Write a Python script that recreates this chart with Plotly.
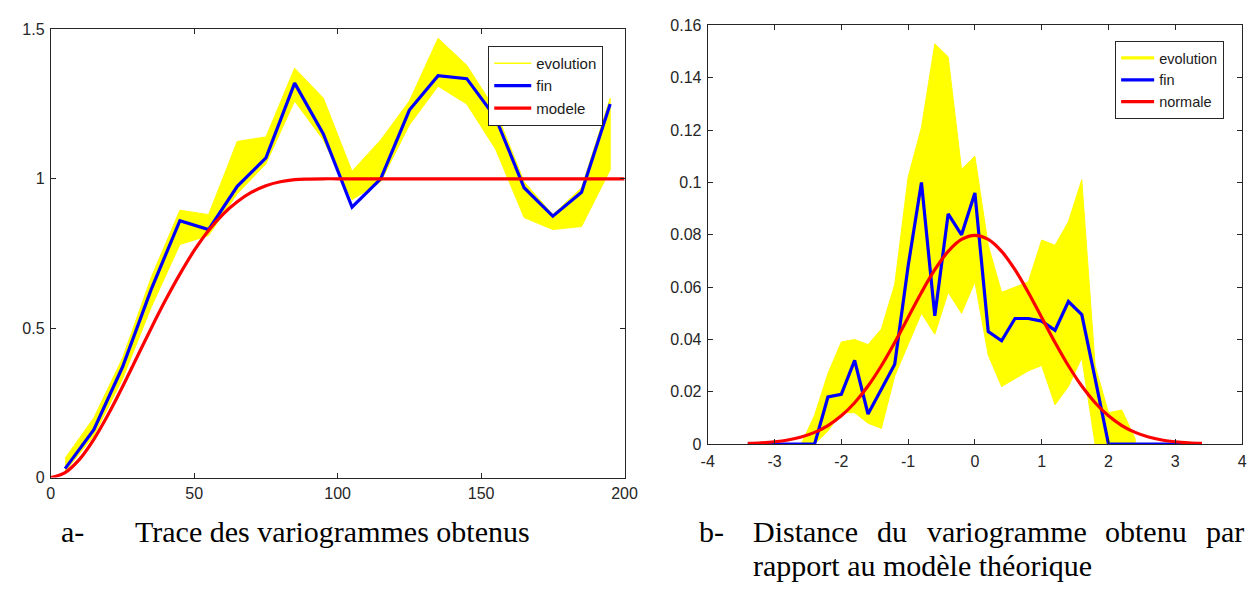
import plotly.graph_objects as go

# ---------------- Left panel: variograms ----------------
lag = [5, 15, 25, 35, 45, 55, 65, 75, 85, 95, 105, 115, 125, 135, 145, 155, 165, 175, 185, 195]
fin_a = [0.03, 0.16, 0.37, 0.63, 0.86, 0.83, 0.975, 1.07, 1.32, 1.15, 0.905, 1.0, 1.23, 1.345, 1.335, 1.205, 0.97, 0.875, 0.955, 1.25]
evo_a_upper = [0.065, 0.20, 0.40, 0.67, 0.895, 0.88, 1.125, 1.14, 1.37, 1.27, 1.025, 1.13, 1.26, 1.47, 1.38, 1.23, 0.99, 0.88, 0.97, 1.27]
evo_a_lower = [0.02, 0.14, 0.33, 0.57, 0.78, 0.81, 0.95, 1.05, 1.26, 1.13, 0.93, 0.99, 1.18, 1.31, 1.25, 1.10, 0.87, 0.83, 0.84, 1.03]
model_h = [0, 5, 10, 15, 20, 25, 30, 35, 40, 45, 50, 55, 60, 65, 70, 75, 80, 85, 90, 95, 100, 150, 200]
model_g = [0, 0.017, 0.061, 0.128, 0.211, 0.304, 0.402, 0.500, 0.594, 0.681, 0.760, 0.827, 0.881, 0.923, 0.955, 0.977, 0.990, 0.997, 0.999, 1.0, 1.0, 1.0, 1.0]
xticks_a = [0, 50, 100, 150, 200]
yticks_a = [0, 0.5, 1, 1.5]
yticklabels_a = ["0", "0.5", "1", "1.5"]

# ---------------- Right panel: distance distribution ----------------
bins = [-3.4, -3.2, -3.0, -2.8, -2.6, -2.4, -2.2, -2.0, -1.8, -1.6, -1.4, -1.2, -1.0, -0.8, -0.6, -0.4, -0.2,
        0.0, 0.2, 0.4, 0.6, 0.8, 1.0, 1.2, 1.4, 1.6, 1.8, 2.0, 2.2, 2.4, 2.6, 2.8, 3.0, 3.2, 3.4]
fin_b = [0, 0, 0, 0, 0, 0, 0.018, 0.019, 0.032, 0.0115, 0.021, 0.0305, 0.068, 0.100, 0.049, 0.088, 0.080,
         0.096, 0.043, 0.0395, 0.048, 0.048, 0.047, 0.0435, 0.0545, 0.0495, 0.025, 0, 0, 0, 0, 0, 0, 0, 0]
normale = [0.00025, 0.00048, 0.00089, 0.00158, 0.00272, 0.00448, 0.00709, 0.0108, 0.01579, 0.02218, 0.02995,
           0.03884, 0.04839, 0.05794, 0.06664, 0.07365, 0.07821, 0.07979, 0.07821, 0.07365, 0.06664, 0.05794,
           0.04839, 0.03884, 0.02995, 0.02218, 0.01579, 0.0108, 0.00709, 0.00448, 0.00272, 0.00158, 0.00089,
           0.00048, 0.00025]
evo_bins = [-2.6, -2.4, -2.2, -2.0, -1.8, -1.6, -1.4, -1.2, -1.0, -0.8, -0.6, -0.4, -0.2, 0.0, 0.2, 0.4, 0.6,
            0.8, 1.0, 1.2, 1.4, 1.6, 1.8, 2.0, 2.2, 2.4]
evo_b_upper = [0, 0.011, 0.027, 0.039, 0.040, 0.038, 0.044, 0.061, 0.102, 0.121, 0.153, 0.148, 0.105, 0.110,
               0.076, 0.058, 0.060, 0.062, 0.078, 0.076, 0.085, 0.101, 0.030, 0.012, 0.013, 0.002]
evo_b_lower = [0, 0, 0.005, 0.012, 0.012, 0.008, 0.006, 0.026, 0.038, 0.050, 0.042, 0.058, 0.050, 0.062,
               0.034, 0.022, 0.025, 0.028, 0.030, 0.015, 0.022, 0.033, 0, 0, 0, 0]
xticks_b = [-4, -3, -2, -1, 0, 1, 2, 3, 4]
xticklabels_b = ["-4", "-3", "-2", "-1", "0", "1", "2", "3", "4"]
yticks_b = [0, 0.02, 0.04, 0.06, 0.08, 0.1, 0.12, 0.14, 0.16]
yticklabels_b = ["0", "0.02", "0.04", "0.06", "0.08", "0.1", "0.12", "0.14", "0.16"]

YEL = "#FFFF00"
BLUE = "#0000FF"
RED = "#FF0000"
AX = "#262626"
W, H = 1260, 591

fig = go.Figure()

# left panel
fig.add_trace(go.Scatter(x=lag + lag[::-1], y=evo_a_upper + evo_a_lower[::-1], fill="toself",
                         fillcolor=YEL, line=dict(color=YEL, width=1), mode="lines",
                         showlegend=False, hoverinfo="skip", xaxis="x", yaxis="y"))
fig.add_trace(go.Scatter(x=[None], y=[None], mode="lines", name="evolution",
                         line=dict(color=YEL, width=1.5), legend="legend", xaxis="x", yaxis="y"))
fig.add_trace(go.Scatter(x=lag, y=fin_a, mode="lines", name="fin",
                         line=dict(color=BLUE, width=3.2), legend="legend", xaxis="x", yaxis="y"))
fig.add_trace(go.Scatter(x=model_h, y=model_g, mode="lines", name="modele", line_shape="spline",
                         line=dict(color=RED, width=3.2), legend="legend", xaxis="x", yaxis="y"))

# right panel
fig.add_trace(go.Scatter(x=evo_bins + evo_bins[::-1], y=evo_b_upper + evo_b_lower[::-1], fill="toself",
                         fillcolor=YEL, line=dict(color=YEL, width=1), mode="lines",
                         showlegend=False, hoverinfo="skip", xaxis="x2", yaxis="y2"))
fig.add_trace(go.Scatter(x=[None], y=[None], mode="lines", name="evolution",
                         line=dict(color=YEL, width=3.2), legend="legend2", xaxis="x2", yaxis="y2"))
fig.add_trace(go.Scatter(x=bins, y=fin_b, mode="lines", name="fin",
                         line=dict(color=BLUE, width=3.2), legend="legend2", xaxis="x2", yaxis="y2"))
fig.add_trace(go.Scatter(x=bins, y=normale, mode="lines", name="normale", line_shape="spline",
                         line=dict(color=RED, width=3.2), legend="legend2", xaxis="x2", yaxis="y2"))

tickfont = dict(family="Arial, Liberation Sans, sans-serif", size=16, color=AX)
axis_common = dict(showline=True, linecolor=AX, linewidth=1, mirror="ticks", ticks="inside",
                   ticklen=5, tickcolor=AX, tickwidth=1, showgrid=False, zeroline=False,
                   tickfont=tickfont)

fig.update_layout(
    width=W, height=H,
    margin=dict(l=0, r=0, t=0, b=0),
    paper_bgcolor="white", plot_bgcolor="white",
    xaxis=dict(domain=[44.5 / W, 627.5 / W], range=[0, 200], tickvals=xticks_a,
               ticklabelstandoff=1, anchor="y", **axis_common),
    yaxis=dict(domain=[1 - 483.5 / H, 1 - 22 / H], range=[0, 1.5], tickvals=yticks_a,
               ticktext=yticklabels_a, ticklabelstandoff=2, anchor="x", **axis_common),
    xaxis2=dict(domain=[712 / W, 1255 / W], range=[-4, 4], tickvals=xticks_b, ticktext=xticklabels_b,
                ticklabelstandoff=3, anchor="y2", **axis_common),
    yaxis2=dict(domain=[1 - 449 / H, 1 - 18 / H], range=[0, 0.16], tickvals=yticks_b,
                ticktext=yticklabels_b, ticklabelstandoff=2, anchor="x2", **axis_common),
    legend=dict(x=489 / W, y=1 - 39 / H, xanchor="left", yanchor="top", bgcolor="white",
                bordercolor=AX, borderwidth=1, tracegroupgap=0, itemwidth=37,
                font=dict(family="Arial, Liberation Sans, sans-serif", size=15, color="#1a1a1a")),
    legend2=dict(x=1126 / W, y=1 - 34 / H, xanchor="left", yanchor="top", bgcolor="white",
                 bordercolor=AX, borderwidth=1, tracegroupgap=0, itemwidth=33,
                 font=dict(family="Arial, Liberation Sans, sans-serif", size=14.5, color="#1a1a1a")),
    showlegend=True,
)

cap_font = dict(family="Liberation Serif, Times New Roman, serif", size=30, color="black")
captions = [
    ("a-", 53, 539), ("Trace des variogrammes obtenus", 128, 539),
    ("b-", 701, 539), ("Distance", 756, 539), ("du", 882, 539), ("variogramme", 933, 539),
    ("obtenu", 1114, 539), ("par", 1216, 539),
    ("rapport au modèle théorique", 756, 574),
]
for txt, px, py in captions:
    fig.add_annotation(text=txt, x=px / W, y=1 - py / H, xref="paper", yref="paper",
                       xanchor="left", yanchor="middle", showarrow=False, font=cap_font)

fig.write_html("out.html")
